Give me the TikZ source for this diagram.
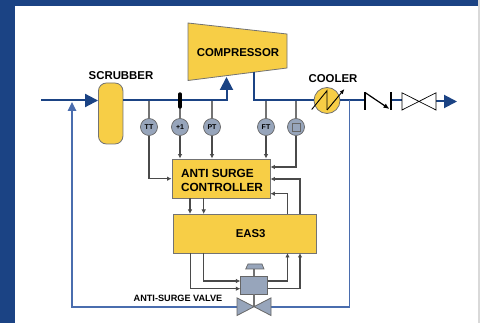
\documentclass[tikz,border=0pt]{standalone}
\usepackage{fontspec}
\setmainfont{Liberation Sans}
\usetikzlibrary{arrows.meta, shapes.geometric}
\definecolor{navy}{HTML}{1B4384}
\definecolor{recycle}{HTML}{4A6DAE}
\definecolor{plant}{HTML}{F7CE46}
\definecolor{instr}{HTML}{97A5BB}
\definecolor{wire}{HTML}{4A4A4A}
\tikzset{
  tag/.style = {font=\bfseries\fontsize{11.4}{13}\selectfont, inner sep=0},
  unit/.style = {draw=black!55, fill=plant, line width=.8pt},
  instrument/.style = {draw=black!60, fill=instr, circle, minimum size=17pt, inner sep=0, line width=.7pt, font=\bfseries\fontsize{7}{8}\selectfont},
  process/.style = {draw=navy, line width=2pt},
  bypass/.style = {draw=recycle, line width=1.7pt},
  tap/.style = {draw=black!55, line width=1.2pt},
  sig/.style = {draw=wire, line width=1.2pt, -{Latex[length=4.5pt,width=4.5pt]}},
  flow/.style = {-{Triangle[length=13pt,width=13pt]}},
}
\newcommand{\valvebody}[2]{\draw[#1] (#2) ++(-17,-8.8) -- ++(34,17.6) -- ++(0,-17.6) -- ++(-34,17.6) -- cycle;}
\begin{document}
\begin{tikzpicture}[x=1pt, y=-1pt]
\useasboundingbox (0,0) rectangle (480,323);
\fill[white] (0,0) rectangle (480,323);
\fill[navy] (0,0) rectangle (478,6);
\fill[navy] (0,0) rectangle (15,323);
\fill[black!15] (478,0) rectangle (480,323);

% equipment
\node[unit, rounded corners=8pt, minimum width=24.5pt, minimum height=61pt] (scrubber) at (110.7,113.5) {};
\draw[unit] (188,23) -- (287,34) -- (287,68) -- (188,80.5) -- cycle;
\node[tag] (comp) at (238,53) {COMPRESSOR};
\node[unit, circle, minimum size=26pt, inner sep=0] (cooler) at (327,100.5) {};
\node[unit, minimum width=98pt, minimum height=39pt] (ctrl) at (221,178.5) {};
\node[tag, align=left, font=\bfseries\fontsize{11.8}{14}\selectfont] (ctrltext) at (222,180) {ANTI SURGE\\CONTROLLER};
\node[unit, minimum width=143pt, minimum height=39pt] (eas) at (244.5,233.5) {};
\node[tag] (eastext) at (250.7,233.5) {EAS3};

% labels
\node[tag] (scrublabel) at (121,75.5) {SCRUBBER};
\node[tag] (coollabel) at (333,78.5) {COOLER};
\node[tag, font=\bfseries\fontsize{9.15}{11}\selectfont] (valvelabel) at (178,298.5) {ANTI-SURGE VALVE};

% instruments
\node[instrument] (tt) at (149,127) {TT};
\node[instrument] (fy) at (180,127) {+1};
\node[instrument] (pt) at (212,127) {PT};
\node[instrument] (ft) at (266,127) {FT};
\node[instrument] (sq) at (296,127) {};
\draw[black!60, line width=.8pt] (292,123) rectangle (300,131);

% valve and positioner
\node[draw=black!60, fill=instr, minimum width=26.5pt, minimum height=18pt, inner sep=0, line width=.7pt] (pos) at (254,285) {};
\coordinate (av) at (254,306.7);
\coordinate (avl) at (237,306.7);
\coordinate (avr) at (271,306.7);
\coordinate (act) at (254,269);
\coordinate (inlet) at (41,100.5);
\coordinate (suct) at (226.5,77);
\coordinate (disch) at (253.7,72);
\coordinate (cvl) at (365,100.5);
\coordinate (cvr) at (391,100.5);
\coordinate (gvl) at (402,100.5);
\coordinate (gvr) at (436,101.5);
\coordinate (outlet) at (457,101.5);
\coordinate (split) at (349.5,100.5);
\coordinate (rejoin) at (72,102);

% process lines
\draw[bypass, -{Triangle[length=9pt,width=8.5pt]}] (avl) -- (72,306.7) -- (rejoin);
\draw[process, flow] (inlet) -- (scrubber.west |- inlet);
\draw[process, flow] (scrubber.east |- inlet) -- (226.5,100.5) -- (suct);
\draw[process] (disch) -- (253.7,100.5) -- (cooler.west);
\draw[process] (cooler.east) -- (cvl);
\draw[process] (cvr) -- (gvl);
\draw[process, flow] (gvr) -- (outlet);
\draw[bypass] (split) -- (349.5,306.7) -- (avr);

% taps
\draw[tap] (149,101) -- (tt);
\draw[tap] (180,101) -- (fy);
\draw[tap] (212,101) -- (pt);
\draw[tap] (266,101) -- (ft);
\draw[tap] (296,101) -- (sq);
\draw[black, line width=3.4pt, line cap=round] (180,94) -- (180,107);

% signals
\draw[sig] (tt) -- (149,178.7) -- (ctrl.west |- 0,178.7);
\draw[sig] (fy) -- (fy |- ctrl.north);
\draw[sig] (pt) -- (pt |- ctrl.north);
\draw[sig] (ft) -- (ft |- ctrl.north);
\draw[sig] (sq) -- (296,167) -- (ctrl.east |- 0,167);
\draw[sig] (300,214) -- (300,179) -- (ctrl.east |- 0,179);
\draw[sig] (287.5,214) -- (287.5,193.7) -- (ctrl.east |- 0,193.7);
\draw[sig] (190,198) -- (190,214);
\draw[sig] (203.7,198) -- (203.7,214);
\draw[sig] (190.7,253) -- (190.7,288.7) -- (pos.west |- 0,288.7);
\draw[sig] (203.7,253) -- (203.7,281) -- (pos.west |- 0,281);
\draw[sig] (pos.east |- 0,281) -- (287.5,281) -- (287.5,253);
\draw[sig] (pos.east |- 0,288.7) -- (300,288.7) -- (300,253);

% actuator
\draw[tap] (act) -- (pos.north);
\draw[tap] (pos.south) -- (av);
\draw[draw=black!60, fill=instr, line width=.7pt] (245.7,269) -- (248,264) -- (262,264) -- (264,269) -- cycle;
\valvebody{draw=black!60, fill=instr, line width=.8pt}{av}

% cooler coil
\draw[black, line width=.9pt] (311.7,109.5) -- (327,90.7) -- (327,110);
\draw[black, line width=.9pt, -{Latex[length=5pt,width=4pt]}] (327,110) -- (344.5,89);

% check valve, gate valve
\draw[black, line width=1.2pt] (cvl) ++(0,-8) -- ++(0,17.5);
\draw[black, line width=1.2pt] (cvr) ++(0,-8) -- ++(0,17.5);
\draw[black, line width=1.2pt, -{Latex[length=6pt,width=5pt]}] (cvl) ++(0,-8) -- (389.5,109);
\draw[black, line width=.7pt, fill=white] (402,92.8) -- (436,110) -- (436,92.8) -- (402,110) -- cycle;
\end{tikzpicture}
\end{document}
